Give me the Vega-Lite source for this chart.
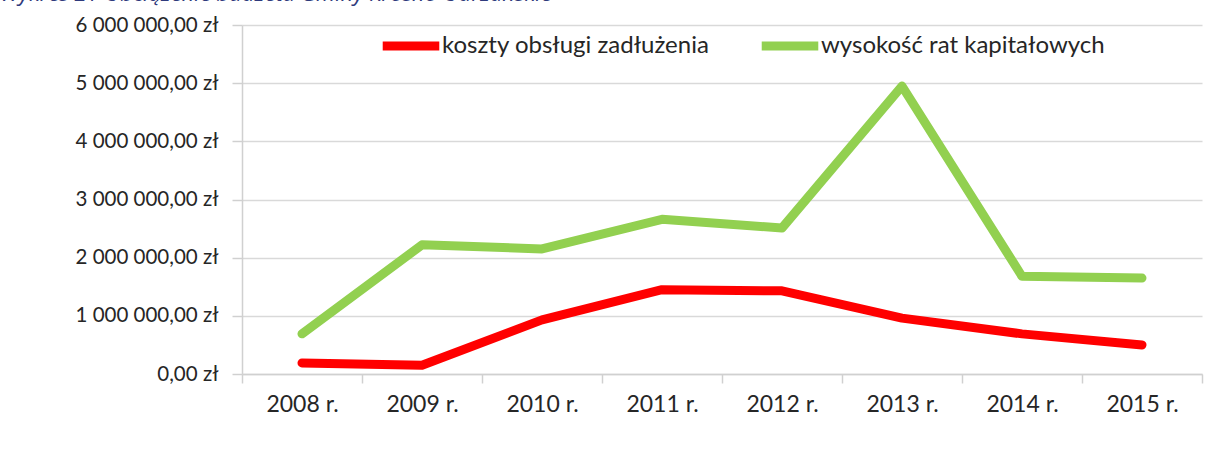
{
  "$schema": "https://vega.github.io/schema/vega-lite/v6.json",
  "width": 960,
  "height": 349,
  "autosize": "none",
  "padding": {"left": 242, "top": 25, "right": 4, "bottom": 83},
  "background": "white",
  "title": {
    "text": "Wykres 21 Obciążenie budżetu Gminy Krosno Odrzańskie",
    "anchor": "start",
    "frame": "group",
    "dx": -242,
    "dy": 10,
    "baseline": "alphabetic",
    "offset": 0,
    "font": "Open Sans",
    "fontStyle": "italic",
    "fontWeight": "normal",
    "fontSize": 22,
    "color": "#2F3A7C"
  },
  "data": {
    "values": [
      {"rok": "2008 r.", "seria": "koszty obsługi zadłużenia", "wartosc": 190000},
      {"rok": "2009 r.", "seria": "koszty obsługi zadłużenia", "wartosc": 150000},
      {"rok": "2010 r.", "seria": "koszty obsługi zadłużenia", "wartosc": 930000},
      {"rok": "2011 r.", "seria": "koszty obsługi zadłużenia", "wartosc": 1450000},
      {"rok": "2012 r.", "seria": "koszty obsługi zadłużenia", "wartosc": 1430000},
      {"rok": "2013 r.", "seria": "koszty obsługi zadłużenia", "wartosc": 960000},
      {"rok": "2014 r.", "seria": "koszty obsługi zadłużenia", "wartosc": 690000},
      {"rok": "2015 r.", "seria": "koszty obsługi zadłużenia", "wartosc": 500000},
      {"rok": "2008 r.", "seria": "wysokość rat kapitałowych", "wartosc": 690000},
      {"rok": "2009 r.", "seria": "wysokość rat kapitałowych", "wartosc": 2220000},
      {"rok": "2010 r.", "seria": "wysokość rat kapitałowych", "wartosc": 2150000},
      {"rok": "2011 r.", "seria": "wysokość rat kapitałowych", "wartosc": 2660000},
      {"rok": "2012 r.", "seria": "wysokość rat kapitałowych", "wartosc": 2510000},
      {"rok": "2013 r.", "seria": "wysokość rat kapitałowych", "wartosc": 4950000},
      {"rok": "2014 r.", "seria": "wysokość rat kapitałowych", "wartosc": 1680000},
      {"rok": "2015 r.", "seria": "wysokość rat kapitałowych", "wartosc": 1650000}
    ]
  },
  "mark": {"type": "line", "strokeWidth": 9, "strokeCap": "round", "strokeJoin": "round"},
  "encoding": {
    "x": {
      "field": "rok",
      "type": "nominal",
      "sort": null,
      "scale": {"paddingInner": 0, "paddingOuter": 0},
      "axis": {
        "title": null,
        "labelAngle": 0,
        "labelFont": "Lato",
        "labelFontSize": 23,
        "labelColor": "#262626",
        "labelPadding": 10,
        "tickBand": "extent",
        "tickSize": 9,
        "tickColor": "#D0D0D0",
        "tickWidth": 1.5,
        "domainColor": "#D0D0D0",
        "domainWidth": 1.5,
        "grid": false
      }
    },
    "y": {
      "field": "wartosc",
      "type": "quantitative",
      "scale": {"domain": [0, 6000000], "nice": false},
      "axis": {
        "title": null,
        "values": [0, 1000000, 2000000, 3000000, 4000000, 5000000, 6000000],
        "labelOverlap": false,
        "labelExpr": "replace(replace(format(datum.value, ',.2f'), regexp(',', 'g'), ' '), '.', ',') + ' zł'",
        "labelFont": "Lato",
        "labelFontSize": 20.5,
        "labelColor": "#262626",
        "labelPadding": 14,
        "tickSize": 10,
        "tickColor": "#D0D0D0",
        "tickWidth": 1.5,
        "domain": true,
        "domainColor": "#D0D0D0",
        "domainWidth": 1.5,
        "grid": true,
        "gridColor": "#D9D9D9",
        "gridWidth": 1.5
      }
    },
    "color": {
      "field": "seria",
      "type": "nominal",
      "scale": {
        "domain": ["koszty obsługi zadłużenia", "wysokość rat kapitałowych"],
        "range": ["#FF0000", "#92D050"]
      },
      "legend": {
        "title": null,
        "orient": "none",
        "legendX": 136,
        "legendY": -12,
        "direction": "horizontal",
        "symbolType": "stroke",
        "symbolStrokeWidth": 9,
        "symbolSize": 3200,
        "labelFont": "Lato",
        "labelFontSize": 24,
        "labelColor": "#262626",
        "labelOffset": -2,
        "columnPadding": 33,
        "labelLimit": 400
      }
    }
  },
  "config": {
    "view": {"stroke": null}
  }
}
